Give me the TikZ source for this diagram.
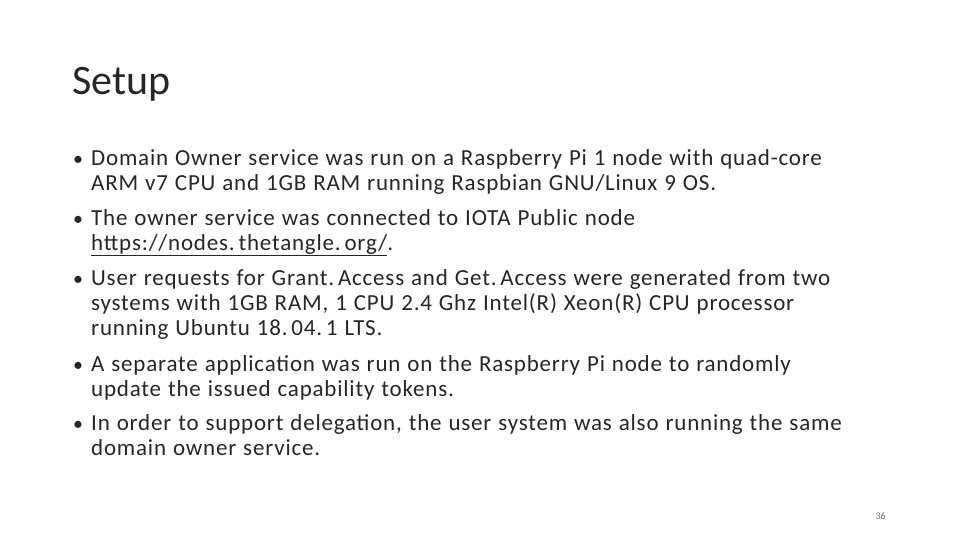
\documentclass[tikz,border=0pt]{standalone}
\usepackage{fontspec}
\setmainfont{Carlito}
\newfontfamily\bodyfont[LetterSpace=3.5,WordSpace=1.15]{Carlito}
\begin{document}
\begin{tikzpicture}[x=1pt,y=1pt,
  ln/.style={anchor=base west,inner sep=0pt,font=\bodyfont\fontsize{23}{26}\selectfont,text=black!85},
  bl/.style={anchor=base west,inner sep=0pt,font=\fontsize{20}{24}\selectfont,text=black!85}]
\useasboundingbox (0,0) rectangle (960,-540);
\node[anchor=base west,inner sep=0pt,font=\fontsize{42}{50}\selectfont,text=black!85] (title) at (72,-95) {Setup};
\foreach \y/\t [count=\i] in {165/{Domain Owner service was run on a Raspberry Pi 1 node with quad-core},
  225/{The owner service was connected to IOTA Public node},
  285/{User requests for Grant.\,Access and Get.\,Access were generated from two},
  371/{A separate application was run on the Raspberry Pi node to randomly},
  430/{In order to support delegation, the user system was also running the same}}
 {\node[bl] (b\i) at (73,-\y) {•}; \node[ln] (l\i) at (91,-\y) {\t};}
\foreach \y/\t [count=\i] in {190/{ARM v7 CPU and 1GB RAM running Raspbian GNU/Linux 9 OS.},
  250/{\underline{https://nodes.\,thetangle.\,org/}.},
  310/{systems with 1GB RAM, 1 CPU 2.4 Ghz Intel(R) Xeon(R) CPU processor},
  335/{running Ubuntu 18.\,04.\,1 LTS.},
  396/{update the issued capability tokens.},
  455/{domain owner service.}}
 {\node[ln] (c\i) at (91,-\y) {\t};}
\node[anchor=base east,inner sep=0pt,font=\fontsize{10}{12}\selectfont,text=black!55] (pg) at (886,-519) {36};
\end{tikzpicture}
\end{document}
